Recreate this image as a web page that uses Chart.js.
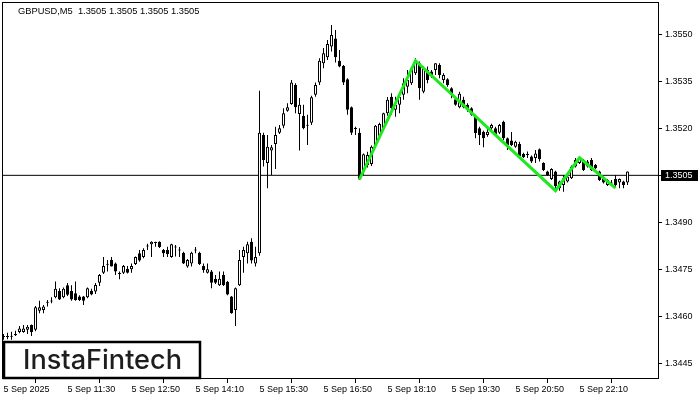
<!DOCTYPE html>
<html>
<head>
<meta charset="utf-8">
<script src="https://cdn.jsdelivr.net/npm/chart.js@4.4.1/dist/chart.umd.min.js"></script>
<style>
  html, body { margin: 0; padding: 0; background: #fff; }
  canvas { display: block; }
</style>
</head>
<body>
<canvas id="chart" width="700" height="400"></canvas>
<script>
// GBPUSD M5, bar 0 = 5 Sep 10:10
const opens = [1.34535,1.34534,1.34535,1.34540,1.34550,1.34550,1.34557,1.34572,1.34557,1.34618,
  1.34620,1.34643,1.34647,1.34661,1.34681,1.34661,1.34699,1.34681,1.34674,1.34663,
  1.34663,1.34661,1.34682,1.34679,1.34707,1.34739,1.34765,1.34780,1.34769,1.34737,
  1.34739,1.34751,1.34750,1.34767,1.34801,1.34789,1.34823,1.34830,1.34834,1.34838,
  1.34812,1.34812,1.34789,1.34822,1.34812,1.34803,1.34759,1.34769,1.34810,1.34803,
  1.34761,1.34739,1.34743,1.34720,1.34699,1.34732,1.34710,1.34663,1.34620,1.34699,
  1.34789,1.34801,1.34838,1.34769,1.34801,1.35179,1.35089,1.35129,1.35150,1.35186,
  1.35208,1.35256,1.35278,1.35338,1.35246,1.35239,1.35211,1.35218,1.35307,1.35346,
  1.35408,1.35427,1.35461,1.35487,1.35416,1.35399,1.35357,1.35267,1.35200,1.35186,
  1.35062,1.35083,1.35086,1.35146,1.35176,1.35200,1.35248,1.35301,1.35259,1.35275,
  1.35307,1.35333,1.35344,1.35376,1.35408,1.35317,1.35386,1.35381,1.35386,1.35402,
  1.35354,1.35357,1.35328,1.35293,1.35267,1.35291,1.35275,1.35264,1.35237,1.35200,
  1.35189,1.35179,1.35200,1.35200,1.35186,1.35221,1.35168,1.35161,1.35141,1.35150,
  1.35118,1.35117,1.35110,1.35105,1.35133,1.35089,1.35062,1.35038,1.35062,1.35009,
  1.35019,1.35030,1.35041,1.35078,1.35089,1.35099,1.35094,1.35099,1.35083,1.35062,
  1.35041,1.35019,1.35025,1.35038,1.35027,1.35030,1.35027];
const highs = [1.34544,1.34548,1.34551,1.34554,1.34569,1.34572,1.34572,1.34574,1.34633,1.34650,
  1.34636,1.34652,1.34661,1.34711,1.34690,1.34692,1.34706,1.34699,1.34711,1.34667,
  1.34665,1.34692,1.34688,1.34706,1.34735,1.34789,1.34780,1.34789,1.34772,1.34743,
  1.34764,1.34761,1.34769,1.34791,1.34812,1.34817,1.34832,1.34840,1.34838,1.34840,
  1.34815,1.34822,1.34832,1.34828,1.34821,1.34806,1.34783,1.34806,1.34821,1.34806,
  1.34769,1.34769,1.34748,1.34732,1.34743,1.34743,1.34713,1.34665,1.34692,1.34812,
  1.34822,1.34838,1.34849,1.34822,1.35320,1.35186,1.35179,1.35147,1.35205,1.35211,
  1.35264,1.35280,1.35354,1.35344,1.35297,1.35275,1.35243,1.35304,1.35346,1.35424,
  1.35456,1.35482,1.35530,1.35514,1.35450,1.35402,1.35360,1.35270,1.35205,1.35200,
  1.35120,1.35125,1.35145,1.35211,1.35218,1.35250,1.35300,1.35312,1.35301,1.35312,
  1.35360,1.35386,1.35397,1.35424,1.35413,1.35397,1.35397,1.35386,1.35408,1.35408,
  1.35376,1.35360,1.35331,1.35296,1.35317,1.35301,1.35280,1.35267,1.35243,1.35205,
  1.35192,1.35200,1.35215,1.35205,1.35214,1.35224,1.35171,1.35188,1.35160,1.35157,
  1.35122,1.35126,1.35113,1.35131,1.35136,1.35092,1.35065,1.35073,1.35065,1.35033,
  1.35051,1.35049,1.35081,1.35105,1.35110,1.35102,1.35099,1.35105,1.35086,1.35065,
  1.35046,1.35038,1.35035,1.35051,1.35040,1.35033,1.35062];
const lows = [1.34525,1.34527,1.34525,1.34537,1.34546,1.34548,1.34544,1.34537,1.34552,1.34610,
  1.34610,1.34631,1.34642,1.34658,1.34652,1.34658,1.34665,1.34650,1.34650,1.34649,
  1.34636,1.34658,1.34667,1.34671,1.34697,1.34735,1.34743,1.34759,1.34732,1.34718,
  1.34735,1.34737,1.34739,1.34764,1.34774,1.34785,1.34812,1.34789,1.34822,1.34818,
  1.34789,1.34789,1.34787,1.34791,1.34789,1.34767,1.34755,1.34759,1.34801,1.34764,
  1.34739,1.34737,1.34690,1.34703,1.34697,1.34697,1.34667,1.34608,1.34569,1.34697,
  1.34739,1.34769,1.34769,1.34759,1.34793,1.35078,1.35009,1.35051,1.35070,1.35182,
  1.35200,1.35253,1.35275,1.35248,1.35129,1.35197,1.35147,1.35211,1.35301,1.35338,
  1.35392,1.35418,1.35445,1.35410,1.35395,1.35338,1.35243,1.35179,1.35179,1.35037,
  1.35051,1.35075,1.35080,1.35140,1.35168,1.35195,1.35240,1.35243,1.35237,1.35248,
  1.35291,1.35312,1.35338,1.35370,1.35291,1.35312,1.35344,1.35361,1.35370,1.35360,
  1.35344,1.35333,1.35296,1.35272,1.35264,1.35264,1.35253,1.35240,1.35168,1.35147,
  1.35140,1.35173,1.35195,1.35176,1.35182,1.35163,1.35131,1.35144,1.35138,1.35108,
  1.35105,1.35105,1.35089,1.35089,1.35094,1.35064,1.35048,1.35035,1.34998,1.35001,
  1.34998,1.35027,1.35038,1.35075,1.35086,1.35064,1.35075,1.35064,1.35070,1.35032,
  1.35024,1.35016,1.35016,1.35012,1.35009,1.35009,1.35019];
const closes = [1.34534,1.34535,1.34536,1.34544,1.34561,1.34561,1.34567,1.34550,1.34629,1.34629,
  1.34631,1.34645,1.34650,1.34688,1.34654,1.34688,1.34669,1.34654,1.34652,1.34652,
  1.34650,1.34690,1.34670,1.34700,1.34732,1.34761,1.34767,1.34759,1.34743,1.34735,
  1.34761,1.34739,1.34761,1.34789,1.34778,1.34812,1.34825,1.34838,1.34835,1.34821,
  1.34801,1.34799,1.34830,1.34820,1.34810,1.34769,1.34780,1.34803,1.34812,1.34767,
  1.34748,1.34750,1.34707,1.34707,1.34720,1.34699,1.34670,1.34610,1.34690,1.34780,
  1.34812,1.34830,1.34778,1.34789,1.35186,1.35099,1.35141,1.35140,1.35179,1.35200,
  1.35248,1.35267,1.35346,1.35267,1.35275,1.35200,1.35208,1.35299,1.35338,1.35416,
  1.35440,1.35469,1.35498,1.35427,1.35397,1.35346,1.35259,1.35186,1.35198,1.35037,
  1.35117,1.35115,1.35141,1.35208,1.35214,1.35248,1.35291,1.35264,1.35275,1.35301,
  1.35344,1.35354,1.35392,1.35413,1.35328,1.35392,1.35354,1.35370,1.35408,1.35370,
  1.35370,1.35338,1.35307,1.35275,1.35310,1.35267,1.35259,1.35243,1.35185,1.35179,
  1.35168,1.35189,1.35211,1.35182,1.35211,1.35168,1.35147,1.35147,1.35157,1.35112,
  1.35108,1.35115,1.35094,1.35120,1.35101,1.35067,1.35051,1.35070,1.35016,1.35030,
  1.35041,1.35046,1.35078,1.35099,1.35105,1.35067,1.35078,1.35067,1.35073,1.35035,
  1.35027,1.35035,1.35024,1.35019,1.35038,1.35019,1.35062];

// time axis labels (every 16 bars)
const tickBars = [0, 16, 32, 48, 64, 80, 96, 112, 128, 144];
const tickLabels = ["5 Sep 2025", "5 Sep 11:30", "5 Sep 12:50", "5 Sep 14:10", "5 Sep 15:30",
  "5 Sep 16:50", "5 Sep 18:10", "5 Sep 19:30", "5 Sep 20:50", "5 Sep 22:10"];
const priceTicks = [1.3445, 1.3460, 1.3475, 1.3490, 1.3505, 1.3520, 1.3535, 1.3550];

// pattern line (green)
const patternBars = [89, 103, 138, 144, 153];
const patternPrices = [1.35037, 1.35416, 1.35001, 1.35106, 1.35009];

const symbolTitle = "GBPUSD,M5  1.3505 1.3505 1.3505 1.3505";
const lastPrice = 1.3505;

const FONT = "Liberation Sans, Arial, sans-serif";

const bodies = opens.map((o, i) => ({ x: i, y: [Math.min(o, closes[i]), Math.max(o, closes[i])] }));
const wicks = highs.map((h, i) => ({ x: i, y: [lows[i], h] }));
const bodyFill = opens.map((o, i) => closes[i] >= o ? "#ffffff" : "#000000");

const xMin = -0.125, xMax = 163.875;

const decor = {
  id: "decor",
  afterDraw(chart) {
    const c = chart.ctx;
    const a = chart.chartArea;
    const ys = chart.scales.y;
    c.save();
    // frame
    c.strokeStyle = "#000";
    c.lineWidth = 1;
    c.strokeRect(a.left - 0.5, a.top - 0.5, a.right - a.left, a.bottom - a.top);

    // current price box
    const py = Math.round(ys.getPixelForValue(lastPrice));
    c.fillStyle = "#000";
    c.fillRect(a.right + 2, py - 5, 37, 11);
    c.fillStyle = "#fff";
    c.font = "9px " + FONT;
    c.textBaseline = "middle";
    c.textAlign = "left";
    c.fillText(lastPrice.toFixed(4), a.right + 6, py + 0.5);

    // symbol title
    c.fillStyle = "#000";
    c.font = "9.3px " + FONT;
    c.fillText(symbolTitle, 18, 11);

    // logo
    c.fillStyle = "#fff";
    c.fillRect(3, 341, 198, 38);
    c.strokeStyle = "#000";
    c.lineWidth = 2.5;
    c.strokeRect(4, 342, 196, 36);
    c.font = "500 100px Inter, 'Open Sans', sans-serif";
    const w = c.measureText("InstaFintech").width;
    const size = 100 * 159 / w;
    c.font = "500 " + size.toFixed(2) + "px Inter, 'Open Sans', sans-serif";
    c.fillStyle = "#1e1e1e";
    c.textBaseline = "alphabetic";
    c.fillText("InstaFintech", 23, 369);
    c.restore();
  }
};

new Chart(document.getElementById("chart"), {
  type: "bar",
  data: {
    datasets: [
      {
        type: "line",
        data: patternBars.map((b, i) => ({ x: b, y: patternPrices[i] })),
        borderColor: "#1ee81e",
        borderWidth: 3,
        pointRadius: 0,
        tension: 0,
        order: 0
      },
      {
        type: "line",
        data: [{ x: xMin, y: lastPrice }, { x: xMax, y: lastPrice }],
        borderColor: "#000",
        borderWidth: 1,
        pointRadius: 0,
        order: 3
      },
      {
        data: bodies,
        backgroundColor: bodyFill,
        borderColor: "#000",
        borderWidth: 1,
        borderSkipped: false,
        inflateAmount: 0,
        barThickness: 3,
        minBarLength: 1,
        grouped: false,
        order: 1
      },
      {
        data: wicks,
        backgroundColor: "#000",
        borderWidth: 0,
        inflateAmount: 0,
        barThickness: 1,
        minBarLength: 1,
        grouped: false,
        order: 2
      }
    ]
  },
  options: {
    responsive: false,
    animation: false,
    devicePixelRatio: 1,
    layout: { padding: { left: 3, top: 3, right: 0, bottom: 0 } },
    plugins: {
      legend: { display: false },
      tooltip: { enabled: false }
    },
    scales: {
      x: {
        type: "linear",
        min: xMin,
        max: xMax,
        offset: false,
        border: { display: false },
        grid: { drawOnChartArea: false, drawTicks: true, tickLength: 4, color: "#000" },
        ticks: {
          autoSkip: false,
          maxRotation: 0,
          align: "start",
          padding: 1,
          color: "#000",
          font: { family: FONT, size: 9 },
          callback: v => tickLabels[tickBars.indexOf(v)]
        },
        afterBuildTicks: s => { s.ticks = tickBars.map(v => ({ value: v })); },
        afterFit: s => { s.height = 21; s.paddingLeft = 0; s.paddingRight = 0; }
      },
      y: {
        position: "right",
        min: 1.3440,
        max: 1.3560,
        border: { display: false },
        grid: { drawOnChartArea: false, drawTicks: true, tickLength: 3, color: "#000" },
        ticks: {
          padding: 3,
          color: "#000",
          font: { family: FONT, size: 9 },
          callback: v => v.toFixed(4)
        },
        afterBuildTicks: s => { s.ticks = priceTicks.map(v => ({ value: v })); },
        afterFit: s => { s.width = 41; s.paddingTop = 0; s.paddingBottom = 0; }
      }
    }
  },
  plugins: [decor]
});
</script>
</body>
</html>
